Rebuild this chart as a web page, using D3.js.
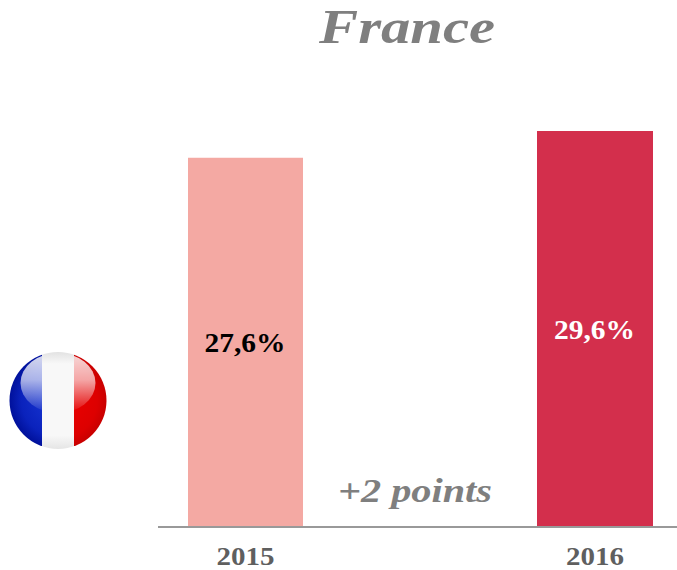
<!DOCTYPE html>
<html><head><meta charset="utf-8">
<script src="https://cdn.jsdelivr.net/npm/d3@7"></script>
<style>html,body{margin:0;padding:0;background:#fff}svg{display:block}</style></head>
<body><svg id="c" width="677" height="570"></svg>
<script>
const categories=["2015","2016"];
const values=[27.6,29.6];
const valueLabels=["27,6%","29,6%"];
const barColors=["#f4a9a3","#d32f4c"];
const labelColors=["#000000","#ffffff"];
const title="France";
const note="+2 points";
const svg=d3.select("#c");
const font="'Liberation Serif',Georgia,serif";
const y=d3.scaleLinear().domain([0,29.6]).range([527,131]);
const xs=d3.scalePoint().domain(categories).range([245.5,595]);
const bw={"2015":115,"2016":116};
svg.selectAll("rect.bar").data(values).join("rect").attr("class","bar")
 .attr("x",(d,i)=>xs(categories[i])-bw[categories[i]]/2)
 .attr("width",(d,i)=>bw[categories[i]])
 .attr("y",d=>y(d)).attr("height",d=>y(0)-y(d)).attr("fill",(d,i)=>barColors[i]);
svg.append("line").attr("x1",158).attr("x2",677).attr("y1",527).attr("y2",527).attr("stroke","#999999").attr("stroke-width",2);
svg.selectAll("text.val").data(values).join("text").attr("class","val")
 .attr("x",(d,i)=>xs(categories[i])-0.5).attr("y",d=>(y(d)+y(0))/2+10)
 .attr("text-anchor","middle").attr("font-family",font).attr("font-weight",700).attr("font-size",28)
 .attr("textLength",81).attr("lengthAdjust","spacingAndGlyphs")
 .attr("fill",(d,i)=>labelColors[i]).text((d,i)=>valueLabels[i]);
svg.selectAll("text.cat").data(categories).join("text").attr("class","cat")
 .attr("x",d=>xs(d)).attr("y",565).attr("text-anchor","middle").attr("font-family",font).attr("font-weight",700).attr("font-size",25)
 .attr("textLength",58).attr("lengthAdjust","spacingAndGlyphs")
 .attr("fill","#5f5f5f").text(d=>d);
svg.append("text").attr("x",407).attr("y",43).attr("text-anchor","middle").attr("font-family",font).attr("font-weight",700).attr("font-style","italic").attr("font-size",48)
 .attr("textLength",176).attr("lengthAdjust","spacingAndGlyphs").attr("fill","#7f7f7f").text(title);
svg.append("text").attr("x",415).attr("y",502).attr("text-anchor","middle").attr("font-family",font).attr("font-weight",700).attr("font-style","italic").attr("font-size",34)
 .attr("textLength",154).attr("lengthAdjust","spacingAndGlyphs").attr("fill","#7f7f7f").text(note);
// flag
const defs=svg.append("defs");
defs.append("clipPath").attr("id","fc").append("circle").attr("cx",58).attr("cy",400.5).attr("r",48.5);
const g=svg.append("g").attr("clip-path","url(#fc)");
const blue=defs.append("radialGradient").attr("id","bl").attr("gradientUnits","userSpaceOnUse").attr("cx",58).attr("cy",400).attr("r",49);
[[0,"#1a3ad8"],[0.75,"#0a22bc"],[1,"#00109a"]].forEach(s=>blue.append("stop").attr("offset",s[0]).attr("stop-color",s[1]));
const red=defs.append("radialGradient").attr("id","rd").attr("gradientUnits","userSpaceOnUse").attr("cx",58).attr("cy",400).attr("r",49);
[[0,"#ee0000"],[0.8,"#dd0000"],[1,"#c80000"]].forEach(s=>red.append("stop").attr("offset",s[0]).attr("stop-color",s[1]));
const wh=defs.append("linearGradient").attr("id","wh").attr("x1",0).attr("x2",0).attr("y1",0).attr("y2",1);
[[0,"#e2e2e2"],[0.12,"#f8f8f8"],[0.85,"#f8f8f8"],[1,"#e4e4e4"]].forEach(s=>wh.append("stop").attr("offset",s[0]).attr("stop-color",s[1]));
g.append("rect").attr("x",9).attr("y",352).attr("width",33).attr("height",98).attr("fill","url(#bl)");
g.append("rect").attr("x",74).attr("y",352).attr("width",33).attr("height",98).attr("fill","url(#rd)");
const gl=defs.append("linearGradient").attr("id","gl").attr("x1",0).attr("x2",0).attr("y1",0).attr("y2",1);
gl.append("stop").attr("offset",0).attr("stop-color","#fff").attr("stop-opacity",0.85);
gl.append("stop").attr("offset",0.45).attr("stop-color","#fff").attr("stop-opacity",0.65);
gl.append("stop").attr("offset",1).attr("stop-color","#fff").attr("stop-opacity",0.02);
g.append("ellipse").attr("cx",58).attr("cy",383).attr("rx",37.5).attr("ry",30).attr("fill","url(#gl)");
g.append("rect").attr("x",42).attr("y",352).attr("width",32).attr("height",98).attr("fill","url(#wh)");
</script></body></html>
